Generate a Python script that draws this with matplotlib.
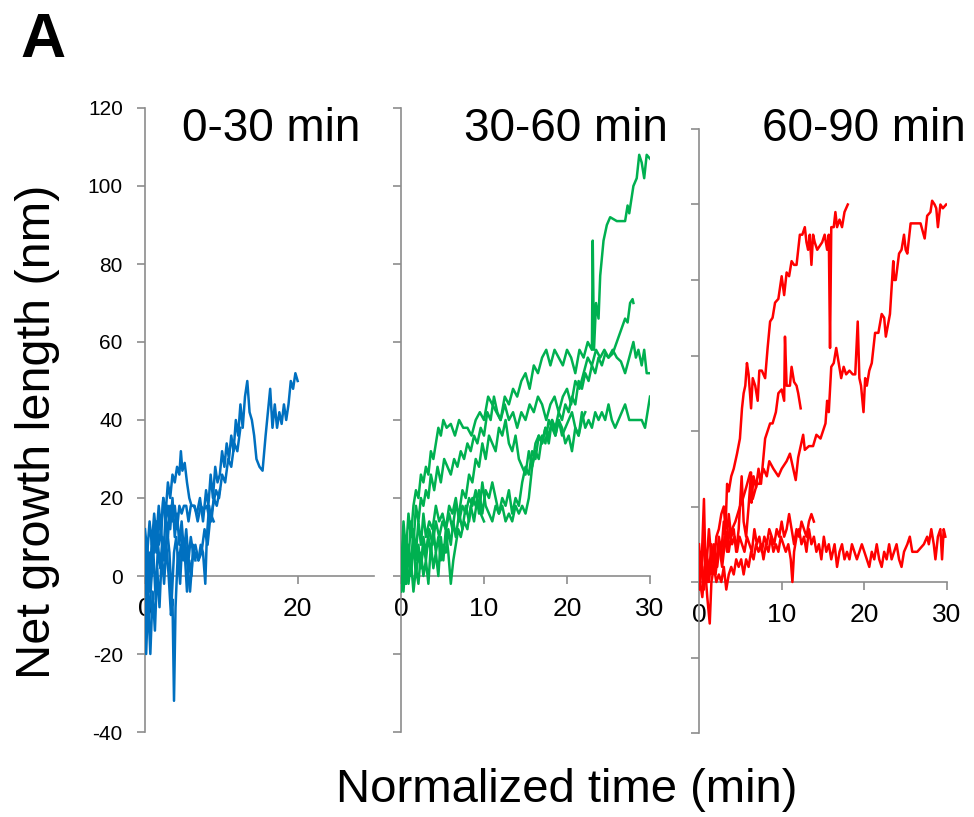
import matplotlib.pyplot as plt

plt.rcParams['font.family'] = ['Liberation Sans', 'DejaVu Sans']
plt.rcParams['axes.unicode_minus'] = False

# Traces: (normalized time in min, net growth length in nm)
blue_1 = [(0, 0), (0.3, 8), (0.6, -4), (0.9, 10), (1.2, 6), (1.5, 14), (1.8, 8), (2.1, 12), (2.4, 4), (2.7, 16),
          (3.0, 10), (3.3, 18), (3.6, 14), (3.9, 18), (4.2, 12), (4.5, 18), (4.8, 16), (5.1, 18), (5.4, 18), (5.7, 14),
          (6.0, 18), (6.4, 18), (6.8, 16), (7.2, 20), (7.6, 14), (8.0, 22), (8.3, 18), (8.6, 26), (8.9, 20), (9.2, 28),
          (9.5, 24), (9.8, 26), (10.1, 32), (10.4, 28), (10.7, 34), (11.0, 30), (11.3, 36), (11.6, 32), (11.9, 40),
          (12.2, 36), (12.5, 44), (12.8, 38), (13.1, 46), (13.4, 50), (13.7, 42), (14.0, 40), (14.3, 36), (14.6, 30),
          (15.0, 28), (15.4, 27), (15.8, 36), (16.1, 42), (16.4, 48), (16.7, 38), (17.0, 44), (17.3, 38), (17.6, 42),
          (17.9, 39), (18.2, 44), (18.5, 40), (18.8, 44), (19.1, 50), (19.4, 48), (19.7, 52), (20.0, 50)]
blue_2 = [(0, 2), (0.3, -10), (0.6, 6), (0.9, 0), (1.2, 12), (1.5, 6), (1.8, 16), (2.1, 10), (2.4, 20), (2.7, 16),
          (3.0, 24), (3.3, 20), (3.6, 26), (3.9, 24), (4.2, 28), (4.5, 26), (4.7, 32), (4.9, 27), (5.2, 29), (5.5, 24),
          (5.8, 20), (6.1, 18), (6.5, 18), (6.9, 14), (7.3, 18), (7.7, 17), (8.1, 18), (8.5, 14), (8.9, 18), (9.3, 22),
          (9.7, 20), (10.1, 26), (10.5, 24), (10.9, 30), (11.3, 28), (11.7, 34), (12.1, 32), (12.5, 38)]
blue_3 = [(0, 10), (0.2, 4), (0.5, -12), (0.8, -2), (1.1, 6), (1.4, -6), (1.7, 8), (2.0, 2), (2.3, 10), (2.6, 4),
          (2.9, 12), (3.2, 6), (3.5, -6), (3.8, 6), (4.1, 10), (4.4, 2), (4.7, 8), (5.0, 4), (5.3, 8), (5.6, 2),
          (5.9, -4), (6.2, 4), (6.6, 6), (7.0, 4), (7.3, 8), (7.6, 6), (7.9, -2), (8.1, 10), (8.4, 18), (8.7, 14),
          (9.0, 20), (9.4, 18), (9.8, 22)]
blue_4 = [(0, -6), (0.15, -20), (0.4, -6), (0.7, -20), (1.0, -4), (1.3, -14), (1.6, 2), (1.9, -8), (2.2, 6),
          (2.5, -2), (2.8, 8), (3.1, 0), (3.4, -10), (3.6, -6), (3.8, -32), (4.0, -8), (4.3, 6), (4.6, -2), (4.9, 10),
          (5.2, 6), (5.5, -4), (5.8, 4), (6.1, 0), (6.3, 8), (6.6, 4)]
blue_5 = [(0, 12), (0.3, 6), (0.6, 14), (0.9, 8), (1.2, 16), (1.5, 10), (1.8, 18), (2.1, 12), (2.4, 20), (2.7, 14),
          (3.0, 18), (3.3, 12), (3.6, 20), (3.9, 10), (4.2, 16), (4.5, 8), (4.8, 14), (5.1, 6), (5.4, 12), (5.7, 4),
          (6.0, 10), (6.3, 6), (6.6, 8), (7.0, 4), (7.4, 6), (7.8, 12), (8.2, 8), (8.6, 16), (9.0, 14)]

green_1 = [(0, 0), (0.3, 14), (0.6, 6), (0.9, 16), (1.2, 10), (1.5, 18), (1.8, 22), (2.1, 20), (2.4, 26), (2.7, 24),
           (3.0, 28), (3.3, 26), (3.6, 32), (3.9, 30), (4.2, 34), (4.5, 38), (4.8, 36), (5.1, 40), (5.5, 38),
           (6.0, 39), (6.5, 36), (7.0, 40), (7.5, 38), (8.0, 38), (8.5, 36), (9.0, 40), (9.5, 42), (10.0, 40),
           (10.5, 46), (11.0, 44), (11.5, 42), (12.0, 40), (12.5, 46), (13.0, 44), (13.5, 48), (14.0, 46), (14.5, 50),
           (15.0, 52), (15.5, 48), (16.0, 54), (16.5, 52), (17.0, 56), (17.5, 58), (18.0, 54), (18.5, 58), (19.0, 56),
           (19.5, 54), (20.0, 58), (20.5, 56), (21.0, 52), (21.5, 58), (22.0, 56), (22.5, 60), (23.0, 58), (23.1, 86),
           (23.25, 58), (23.5, 70), (23.8, 66), (24.0, 77), (24.4, 86), (24.8, 90), (25.2, 92), (26.0, 91), (27.0, 91),
           (27.3, 95), (27.5, 93), (28.0, 100), (28.4, 102), (28.7, 108), (29.0, 106), (29.3, 102), (29.6, 108),
           (30.0, 107)]
green_2 = [(0, 4), (0.3, -2), (0.6, 10), (0.9, 4), (1.2, 14), (1.5, 8), (1.8, 18), (2.1, 14), (2.4, 20), (2.7, 18),
           (3.0, 22), (3.3, 20), (3.6, 26), (4.0, 22), (4.4, 28), (4.8, 24), (5.2, 30), (5.6, 28), (6.0, 26),
           (6.4, 30), (6.8, 28), (7.2, 32), (7.6, 30), (8.0, 34), (8.4, 32), (8.8, 36), (9.2, 34), (9.6, 38),
           (10.0, 36), (10.4, 42), (10.8, 40), (11.2, 46), (11.6, 42), (12.0, 40), (12.5, 44), (13.0, 40), (13.5, 42),
           (14.0, 38), (14.5, 42), (15.0, 40), (15.5, 44), (16.0, 42), (16.5, 46), (17.0, 44), (17.5, 40), (18.0, 44),
           (18.5, 46), (19.0, 42), (19.5, 46), (20.0, 48), (20.5, 44), (21.0, 50), (21.5, 48), (22.0, 52), (22.5, 56),
           (23.0, 54), (23.5, 58), (24.0, 56), (24.5, 58), (25.0, 56), (25.5, 57), (26.0, 60), (26.5, 63), (27.0, 66),
           (27.3, 65), (27.6, 70), (27.9, 71), (28.0, 70)]
green_3 = [(0, 2), (0.3, 10), (0.6, 0), (0.9, 8), (1.2, 2), (1.5, 12), (1.8, 6), (2.1, 14), (2.4, 8), (2.7, 16),
           (3.0, 10), (3.4, 14), (3.8, 12), (4.2, 18), (4.6, 14), (5.0, 16), (5.4, 12), (5.8, 18), (6.2, 16), (6.6, 20),
           (7.0, 14), (7.4, 18), (7.8, 16), (8.2, 20), (8.6, 18), (9.0, 22), (9.4, 16), (9.8, 24), (10.2, 18),
           (10.6, 16), (11.0, 14), (11.4, 18), (11.8, 16), (12.2, 20), (12.6, 18), (13.0, 22), (13.4, 16), (13.8, 20),
           (14.2, 18), (14.6, 24), (15.0, 28), (15.4, 26), (15.8, 32), (16.2, 30), (16.6, 36), (17.0, 34), (17.4, 38),
           (17.8, 34), (18.2, 40), (18.6, 38), (19.0, 42), (19.4, 40), (19.8, 44), (20.2, 42), (20.6, 46), (21.0, 44),
           (21.4, 50), (21.8, 48), (22.2, 52), (22.6, 50), (23.0, 54), (23.4, 52), (23.8, 56), (24.2, 54), (24.6, 57),
           (25.0, 56), (25.5, 58), (26.0, 56), (26.5, 55), (27.0, 52), (27.5, 56), (28.0, 60), (28.3, 56), (28.6, 58),
           (29.0, 54), (29.3, 58), (29.6, 52), (30.0, 52)]
green_4 = [(0, 0), (0.3, 8), (0.6, -2), (0.9, 6), (1.2, 0), (1.5, 10), (1.8, 4), (2.1, 8), (2.4, 2), (2.7, 10),
           (3.0, 6), (3.4, 12), (3.8, 8), (4.2, 14), (4.6, 10), (5.0, 14), (5.4, 12), (5.8, 16), (6.2, 12), (6.6, 18),
           (7.0, 16), (7.4, 22), (7.8, 20), (8.2, 26), (8.6, 24), (9.0, 30), (9.4, 28), (9.8, 34), (10.2, 30),
           (10.6, 36), (11.0, 34), (11.4, 32), (11.8, 38), (12.2, 36), (12.6, 40), (13.0, 34), (13.4, 32), (13.8, 36),
           (14.2, 30), (14.6, 28), (15.0, 26), (15.4, 32), (15.8, 28), (16.2, 34), (16.6, 36), (17.0, 34), (17.4, 38),
           (17.8, 36), (18.2, 40), (18.6, 36), (19.0, 40), (19.4, 38), (19.8, 34), (20.2, 36), (20.6, 32), (21.0, 38),
           (21.4, 36), (21.8, 42), (22.2, 38), (22.6, 40), (23.0, 38), (23.4, 42), (23.8, 40), (24.2, 42), (24.6, 40),
           (25.0, 44), (25.4, 40), (25.8, 38), (26.2, 40), (27.0, 44), (27.5, 40), (28.0, 40), (28.5, 40), (29.0, 40),
           (29.4, 38), (29.7, 42), (30.0, 46)]
green_5 = [(0, -4), (0.3, 4), (0.6, -2), (0.9, 6), (1.2, 2), (1.5, 8), (1.8, 0), (2.1, 6), (2.4, 2), (2.7, 8),
           (3.0, 4), (3.3, 10), (3.6, 6), (3.9, 12), (4.2, 6), (4.5, 10), (4.8, 4), (5.1, 8), (5.4, 6), (5.7, 12),
           (6.0, 8), (6.3, 14), (6.6, 10), (7.0, 16), (7.4, 12), (7.8, 18), (8.2, 14), (8.6, 20), (9.0, 18), (9.4, 22),
           (9.8, 16), (10.2, 22), (10.6, 20), (11.0, 24), (11.4, 20), (11.8, 16), (12.2, 18), (12.6, 14), (13.0, 16),
           (13.4, 14), (13.8, 18), (14.2, 16), (14.6, 18), (15.0, 16), (15.4, 20), (15.8, 28), (16.2, 32), (16.6, 30),
           (17.0, 36), (17.4, 34), (17.8, 40), (18.2, 38), (18.6, 36), (19.0, 40), (19.4, 36), (19.8, 38), (20.2, 40),
           (20.6, 42), (21.0, 38), (21.4, 36), (21.8, 40), (22.2, 42)]
green_6 = [(0, 0), (0.3, -4), (0.6, 6), (0.9, -2), (1.2, 4), (1.5, -4), (1.8, 2), (2.1, -2), (2.4, 6), (2.7, 0),
           (3.0, 4), (3.3, -2), (3.6, 8), (3.9, 2), (4.2, 6), (4.5, 0), (4.8, 10), (5.1, 4), (5.4, 12), (5.7, 6),
           (6.0, -2), (6.3, 4), (6.6, 8), (6.9, 12), (7.2, 10), (7.6, 14), (8.0, 12), (8.4, 18), (8.8, 14), (9.2, 20),
           (9.6, 16), (10.0, 14)]

red_1 = [(0, 0), (0.3, 6), (0.6, -2), (0.9, 8), (1.2, 2), (1.5, 10), (1.8, 4), (2.1, 12), (2.4, 14), (2.7, 18),
         (3.0, 20), (3.2, 14), (3.4, 26), (3.6, 24), (3.9, 28), (4.2, 30), (4.6, 34), (4.95, 38), (5.2, 46), (5.4, 50),
         (5.6, 52), (5.8, 58), (6.0, 55), (6.3, 46), (6.5, 54), (6.8, 52), (7.1, 48), (7.3, 56), (7.6, 56), (8.0, 54),
         (8.3, 62), (8.6, 69), (8.9, 70), (9.2, 74), (9.6, 75), (10.0, 81), (10.3, 76), (10.6, 82), (10.9, 81),
         (11.2, 85), (11.5, 84), (11.8, 84), (12.2, 92), (12.5, 92), (12.8, 94), (13.0, 90), (13.2, 88), (13.4, 92),
         (13.6, 84), (13.8, 92), (14.0, 90), (14.3, 88), (14.6, 89), (14.9, 90), (15.2, 92), (15.5, 88), (15.7, 92),
         (15.85, 62), (16.0, 94), (16.3, 94), (16.5, 98), (16.7, 94), (17.0, 96), (17.3, 94), (17.6, 98), (18.0, 100)]
red_2 = [(0, 10), (0.3, 2), (0.6, 12), (0.9, 4), (1.2, 14), (1.5, 6), (1.8, 10), (2.1, 4), (2.4, 12), (2.7, 8),
         (3.0, 16), (3.3, 10), (3.6, 18), (3.9, 12), (4.2, 14), (4.5, 8), (4.8, 14), (5.16, 28), (5.4, 16), (5.7, 12),
         (6.0, 20), (6.3, 29), (6.35, 21), (6.6, 28), (6.9, 25), (7.2, 30), (7.5, 26), (8.0, 38), (8.3, 40),
         (8.6, 42), (8.9, 42), (9.3, 45), (9.6, 50), (10.0, 51), (10.3, 48), (10.4, 65), (10.6, 52), (11.0, 52),
         (11.2, 57), (11.5, 53), (11.8, 52), (12.0, 50), (12.3, 46)]
red_3 = [(0, 2), (0.4, -4), (0.8, 6), (1.2, 0), (1.6, 8), (2.0, 2), (2.4, 10), (2.8, 4), (3.2, 12), (3.6, 8),
         (4.0, 14), (4.4, 16), (4.95, 20), (5.3, 22), (5.7, 25), (6.2, 29), (6.5, 22), (7.0, 26), (7.3, 26),
         (7.8, 30), (8.2, 28), (8.5, 32), (9.0, 30), (9.6, 28), (10.0, 30), (10.6, 32), (11.0, 34), (11.4, 30),
         (11.7, 27), (12.0, 33), (12.6, 39), (12.8, 35), (13.3, 36), (13.8, 36), (14.2, 39), (14.7, 38), (15.0, 40),
         (15.3, 42), (15.5, 48), (15.7, 45), (16.0, 57), (16.3, 58), (16.6, 62), (16.9, 58), (17.2, 54), (17.5, 57),
         (17.8, 55), (18.2, 56), (18.6, 55), (18.9, 55), (19.2, 69), (19.4, 54), (19.6, 52), (19.9, 45), (20.1, 54),
         (20.3, 52), (20.6, 56), (20.9, 58), (21.3, 66), (21.7, 66), (22.1, 71), (22.4, 70), (22.6, 65), (23.1, 71),
         (23.5, 85), (23.6, 80), (23.8, 80), (24.2, 87), (24.5, 88), (24.8, 92), (25.0, 88), (25.2, 87), (25.6, 95),
         (26.2, 95), (26.8, 95), (27.3, 91), (27.6, 97), (28.0, 98), (28.2, 101), (28.5, 100), (28.7, 99),
         (28.9, 94), (29.2, 100), (29.5, 99), (29.9, 100)]
red_4 = [(0, 0), (0.2, 8), (0.5, -2), (0.7, 4), (1.0, 0), (1.3, 6), (1.6, 2), (1.9, 8), (2.2, 4), (2.5, 10), (2.8, 6),
         (3.1, 12), (3.4, 8), (3.7, 14), (4.0, 10), (4.3, 12), (4.6, 8), (4.9, 12), (5.2, 10), (5.5, 8), (5.8, 12),
         (6.1, 10), (6.4, 8), (6.7, 14), (7.0, 10), (7.3, 12), (7.6, 8), (7.9, 12), (8.2, 10), (8.5, 14), (8.8, 12),
         (9.1, 10), (9.4, 14), (9.7, 12), (10.0, 16), (10.3, 12), (10.6, 14), (10.9, 18), (11.2, 14), (11.5, 10),
         (11.8, 14), (12.1, 12), (12.4, 16), (12.7, 14), (13.0, 12), (13.3, 16), (13.6, 18), (13.9, 16)]
red_5 = [(0, -2), (0.3, 4), (0.6, 22), (0.8, 2), (1.0, -4), (1.3, -11), (1.5, 0), (1.8, 4), (2.1, 0), (2.4, 2),
         (2.7, 0), (3.0, 4), (3.3, -2), (3.6, 2), (3.9, 4), (4.2, 2), (4.5, 6), (4.8, 4), (5.1, 6), (5.4, 2), (5.7, 6),
         (6.0, 4), (6.3, 8), (6.6, 6), (6.9, 10), (7.2, 8), (7.5, 10), (7.8, 6), (8.1, 10), (8.4, 8), (8.7, 12),
         (9.0, 8), (9.3, 10), (9.6, 8), (9.9, 12), (10.2, 10), (10.5, 8), (10.8, 10), (11.1, 6), (11.3, 0), (11.5, 8),
         (11.8, 12), (12.1, 14), (12.4, 10), (12.7, 12), (13.0, 8), (13.3, 14), (13.6, 10), (13.9, 12), (14.2, 8),
         (14.5, 10), (14.8, 6), (15.1, 12), (15.4, 8), (15.7, 10), (16.0, 6), (16.4, 10), (16.7, 4), (17.0, 8),
         (17.3, 10), (17.6, 6), (17.9, 8), (18.2, 6), (18.5, 10), (18.8, 8), (19.1, 6), (19.4, 8), (19.7, 10),
         (20.0, 8), (20.3, 6), (20.6, 4), (20.9, 8), (21.2, 6), (21.5, 10), (21.8, 6), (22.1, 4), (22.4, 8), (22.7, 6),
         (23.0, 10), (23.3, 6), (23.6, 8), (23.9, 10), (24.2, 6), (24.5, 4), (24.8, 8), (25.2, 10), (25.5, 12),
         (25.8, 8), (26.4, 8), (27.2, 10), (27.6, 12), (27.8, 10), (28.1, 14), (28.4, 10), (28.6, 6), (28.9, 12),
         (29.2, 14), (29.4, 6), (29.6, 14), (29.8, 12)]

panel_titles = ["0-30 min", "30-60 min", "60-90 min"]
panel_colors = ["#0070C0", "#00B050", "#FF0000"]
panel_traces = [[blue_1, blue_2, blue_3, blue_4, blue_5],
                [green_1, green_2, green_3, green_4, green_5, green_6],
                [red_1, red_2, red_3, red_4, red_5]]
y_ticks = [-40, -20, 0, 20, 40, 60, 80, 100, 120]
x_ticks = [[0, 20], [0, 10, 20, 30], [0, 10, 20, 30]]

W, H = 974, 817
fig = plt.figure(figsize=(W / 100, H / 100), dpi=100)

# axes boxes in pixels: left, right, top, bottom
boxes = [(145, 374, 108, 732), (401, 650, 108, 732), (699, 947, 129, 733)]
title_right = [360, 668, 966]
axis_grey = "#8C8C8C"

for i, (l, r, t, b) in enumerate(boxes):
    ax = fig.add_axes([l / W, 1 - b / H, (r - l) / W, (b - t) / H])
    for tr in panel_traces[i]:
        ax.plot([p[0] for p in tr], [p[1] for p in tr], color=panel_colors[i], lw=1.8, zorder=3)
    ax.set_xlim(0, 30)
    ax.set_ylim(-40, 120)
    ax.set_yticks(y_ticks)
    ax.set_xticks(x_ticks[i])
    ax.spines['top'].set_visible(False)
    ax.spines['right'].set_visible(False)
    ax.spines['bottom'].set_position(('data', 0))
    for s in ['left', 'bottom']:
        ax.spines[s].set_color(axis_grey)
        ax.spines[s].set_linewidth(1.2)
    ax.tick_params(axis='both', colors=axis_grey, width=1.2, length=6)
    ax.tick_params(axis='x', labelcolor='black', labelsize=19, pad=9)
    ax.tick_params(axis='y', labelcolor='black', labelsize=15, pad=10)
    if i > 0:
        ax.set_yticklabels([])
    fig.text(title_right[i] / W, 1 - 141 / H, panel_titles[i], ha='right', va='baseline', fontsize=33)

fig.text(38 / W, 1 - 432 / H, "Net growth length (nm)", rotation=90, ha='center', va='center', fontsize=35)
fig.text(567 / W, 1 - 790 / H, "Normalized time (min)", ha='center', va='center', fontsize=34)
fig.text(20 / W, 1 - 57 / H, "A", ha='left', va='baseline', fontsize=45, fontweight='bold')

plt.savefig("out.png", dpi=100)
